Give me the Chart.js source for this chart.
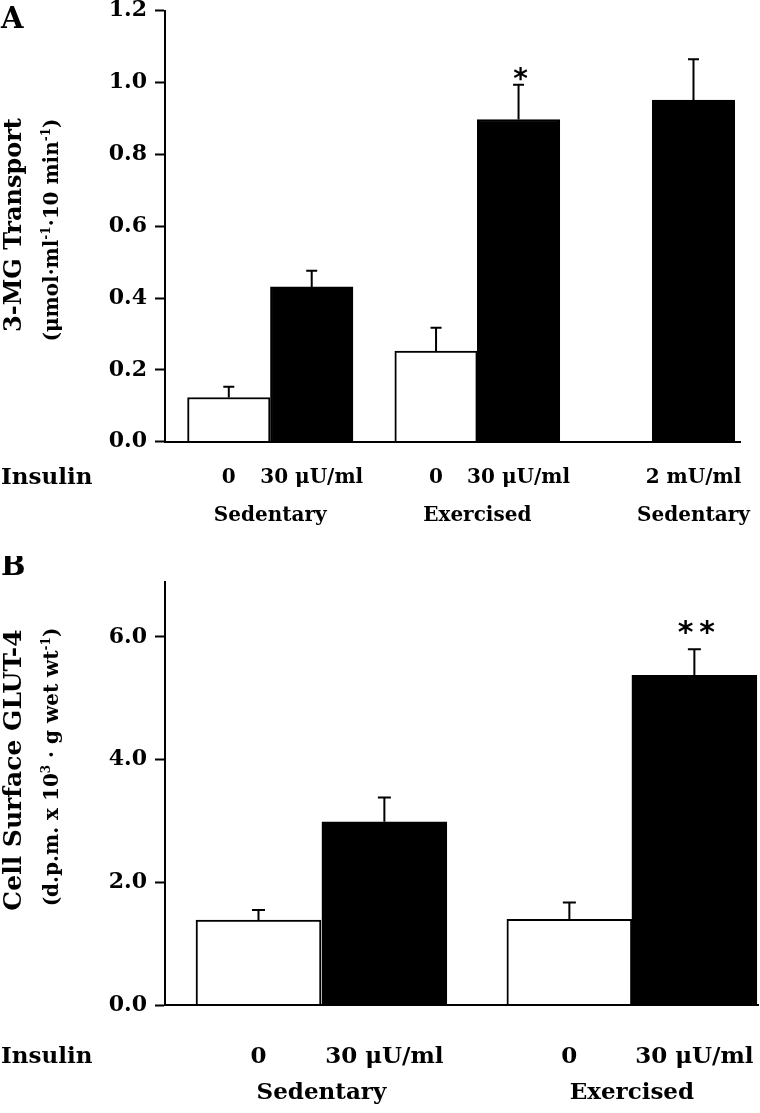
<!DOCTYPE html>
<html lang="en">
  <head>
    <meta charset="UTF-8" />
    <title>3-MG transport and cell surface GLUT-4</title>
    <script src="https://cdn.jsdelivr.net/npm/chart.js"></script>
    <style>
      body { margin: 0; background: #fff; }
      .panel { position: absolute; left: 0; }
      #panelA { top: 0; }
      #panelB { top: 556px; }
    </style>
  </head>
  <body>
    <div class="panel" id="panelA"><canvas id="chartA" width="760" height="556"></canvas></div>
    <div class="panel" id="panelB"><canvas id="chartB" width="760" height="557"></canvas></div>

    <script>
      // Panel A - 3-MG transport
      const groupsA = ["Sedentary", "Exercised", "Sedentary"];
      const barGroupA = [0, 0, 1, 1, 2];
      const insulinA = ["0", "30 μU/ml", "0", "30 μU/ml", "2 mU/ml"];
      const transportA = [0.123, 0.431, 0.252, 0.897, 0.951];
      const transportErrA = [0.03, 0.045, 0.065, 0.097, 0.114];
      const signifA = ["", "", "", "*", ""];
      const yTicksA = [0, 0.2, 0.4, 0.6, 0.8, 1.0, 1.2];

      // Panel B - cell surface GLUT-4
      const groupsB = ["Sedentary", "Exercised"];
      const barGroupB = [0, 0, 1, 1];
      const insulinB = ["0", "30 μU/ml", "0", "30 μU/ml"];
      const glut4B = [1.385, 2.986, 1.396, 5.375];
      const glut4ErrB = [0.162, 0.397, 0.274, 0.423];
      const signifB = ["", "", "", "**"];
      const yTicksB = [0, 2, 4, 6];

      // bar positions along x, in bar widths from the y axis
      const slotA = [0.764, 1.757, 3.246, 4.234, 6.329];
      const slotB = [0.745, 1.748, 3.222, 4.218];

      const SERIF = "'DejaVu Serif', serif";
      const SANS = "'DejaVu Sans', sans-serif";

      // rotated axis title, "^...^" marks superscript
      function drawRotated(ctx, text, size, baseX, centerY) {
        const parts = text.split("^");
        const fonts = parts.map((_, k) =>
          "bold " + (k % 2 ? Math.round(size * 0.62) : size) + "px " + SERIF
        );
        let total = 0;
        const widths = parts.map((t, k) => {
          ctx.font = fonts[k];
          const w = ctx.measureText(t).width;
          total += w;
          return w;
        });
        ctx.save();
        ctx.translate(baseX, centerY);
        ctx.rotate(-Math.PI / 2);
        ctx.textAlign = "left";
        ctx.textBaseline = "alphabetic";
        let u = -total / 2;
        parts.forEach((t, k) => {
          ctx.font = fonts[k];
          ctx.fillText(t, u, k % 2 ? -size * 0.42 : 0);
          u += widths[k];
        });
        ctx.restore();
      }

      function annotate(p) {
        return {
          id: "annotate",
          afterDatasetsDraw(chart) {
            const ctx = chart.ctx;
            const y = chart.scales.y;
            const bars = chart.getDatasetMeta(0).data;
            ctx.save();
            ctx.strokeStyle = "#000";
            ctx.fillStyle = "#000";
            ctx.lineWidth = 2;
            bars.forEach((bar, i) => {
              const top = y.getPixelForValue(p.values[i] + p.errs[i]);
              ctx.beginPath();
              ctx.moveTo(bar.x, bar.y);
              ctx.lineTo(bar.x, top);
              ctx.moveTo(bar.x - p.cap / 2, top);
              ctx.lineTo(bar.x + p.cap / 2, top);
              ctx.stroke();
              if (p.signif[i]) {
                const s = p.signif[i].split("").join("\u2009");
                ctx.font = "bold " + p.starSize + "px " + SANS;
                ctx.textAlign = "center";
                ctx.textBaseline = "alphabetic";
                const m = ctx.measureText(s);
                const cy = top - p.starGap;
                ctx.fillText(s, bar.x + 2, cy + (m.actualBoundingBoxAscent - m.actualBoundingBoxDescent) / 2);
              }
            });
            ctx.restore();
          },
          afterDraw(chart) {
            const ctx = chart.ctx;
            const bars = chart.getDatasetMeta(0).data;
            ctx.save();
            ctx.fillStyle = "#000";
            ctx.textAlign = "left";
            ctx.textBaseline = "alphabetic";
            ctx.font = "bold " + p.letterSize + "px " + SERIF;
            ctx.fillText(p.letter, 1, p.letterY);

            ctx.textBaseline = "middle";
            ctx.font = "bold 23px " + SERIF;
            ctx.fillText("Insulin", 1, p.rowY);

            ctx.textAlign = "center";
            ctx.font = "bold " + p.labelSize + "px " + SERIF;
            bars.forEach((bar, i) => ctx.fillText(p.labels[i], bar.x, p.rowY));
            p.groups.forEach((g, k) => {
              const xs = bars.filter((_, i) => p.barGroup[i] === k).map((b) => b.x);
              const cx = xs.reduce((a, b) => a + b, 0) / xs.length;
              ctx.fillText(g, cx, p.groupY);
            });

            drawRotated(ctx, p.title, p.titleSize, 20.5, p.titleY);
            drawRotated(ctx, p.unit, 20, 58, p.unitY);
            ctx.restore();
          },
        };
      }

      function makeChart(id, p) {
        return new Chart(document.getElementById(id), {
          type: "bar",
          data: {
            datasets: [
              {
                data: p.slots.map((x, i) => ({ x: x, y: p.values[i] })),
                backgroundColor: p.labels.map((l) => (l === "0" ? "#fff" : "#000")),
                borderColor: "#000",
                borderWidth: 2,
                barPercentage: 1,
                categoryPercentage: 1,
              },
            ],
          },
          options: {
            responsive: false,
            animation: false,
            layout: { padding: p.padding },
            plugins: {
              legend: { display: false },
              tooltip: { enabled: false },
            },
            scales: {
              x: {
                type: "linear",
                offset: false,
                min: 0,
                max: p.xMax,
                grid: { display: false, offset: false },
                ticks: { display: false },
                border: { color: "#000", width: 2, z: 1 },
                afterBuildTicks: (s) => {
                  s.ticks = [{ value: s.min }, { value: s.max }];
                },
                afterFit: (s) => {
                  s.height = 0;
                  s.paddingLeft = 0;
                  s.paddingRight = 0;
                },
              },
              y: {
                min: 0,
                max: p.yMax,
                afterBuildTicks: (s) => {
                  s.ticks = p.yTicks.map((v) => ({ value: v }));
                },
                ticks: {
                  padding: 8,
                  color: "#000",
                  font: { family: SERIF, size: 22, weight: "bold" },
                  callback: (v) => Number(v).toFixed(1),
                },
                grid: {
                  drawOnChartArea: false,
                  tickLength: 10,
                  tickWidth: 2,
                  tickColor: "#000",
                },
                border: { color: "#000", width: 2, z: 1 },
                afterFit: (s) => {
                  s.width = 165;
                  s.paddingTop = 0;
                  s.paddingBottom = 0;
                },
              },
            },
          },
          plugins: [annotate(p)],
        });
      }

      makeChart("chartA", {
        slots: slotA,
        values: transportA,
        errs: transportErrA,
        labels: insulinA,
        groups: groupsA,
        barGroup: barGroupA,
        signif: signifA,
        yTicks: yTicksA,
        yMax: 1.2,
        xMax: 6.886,
        padding: { left: 0, top: 10.7, right: 20, bottom: 114.3 },
        cap: 11,
        starSize: 28,
        starGap: 11,
        letter: "A",
        letterSize: 29,
        letterY: 28,
        rowY: 478,
        groupY: 516,
        labelSize: 20,
        title: "3-MG Transport",
        titleSize: 24,
        titleY: 225,
        unit: "(μmol·ml^-1^·10 min^-1^)",
        unitY: 230,
      });

      makeChart("chartB", {
        slots: slotB,
        values: glut4B,
        errs: glut4ErrB,
        labels: insulinB,
        groups: groupsB,
        barGroup: barGroupB,
        signif: signifB,
        yTicks: yTicksB,
        yMax: 6.9,
        xMax: 4.725,
        padding: { left: 0, top: 25.7, right: 2, bottom: 108 },
        cap: 13,
        starSize: 30,
        starGap: 22,
        letter: "B",
        letterSize: 29,
        letterY: 19,
        rowY: 500.7,
        groupY: 537,
        labelSize: 23,
        title: "Cell Surface GLUT-4",
        titleSize: 25,
        titleY: 214,
        unit: "(d.p.m. x 10^3^ · g wet wt^-1^)",
        unitY: 211,
      });
    </script>
  </body>
</html>
